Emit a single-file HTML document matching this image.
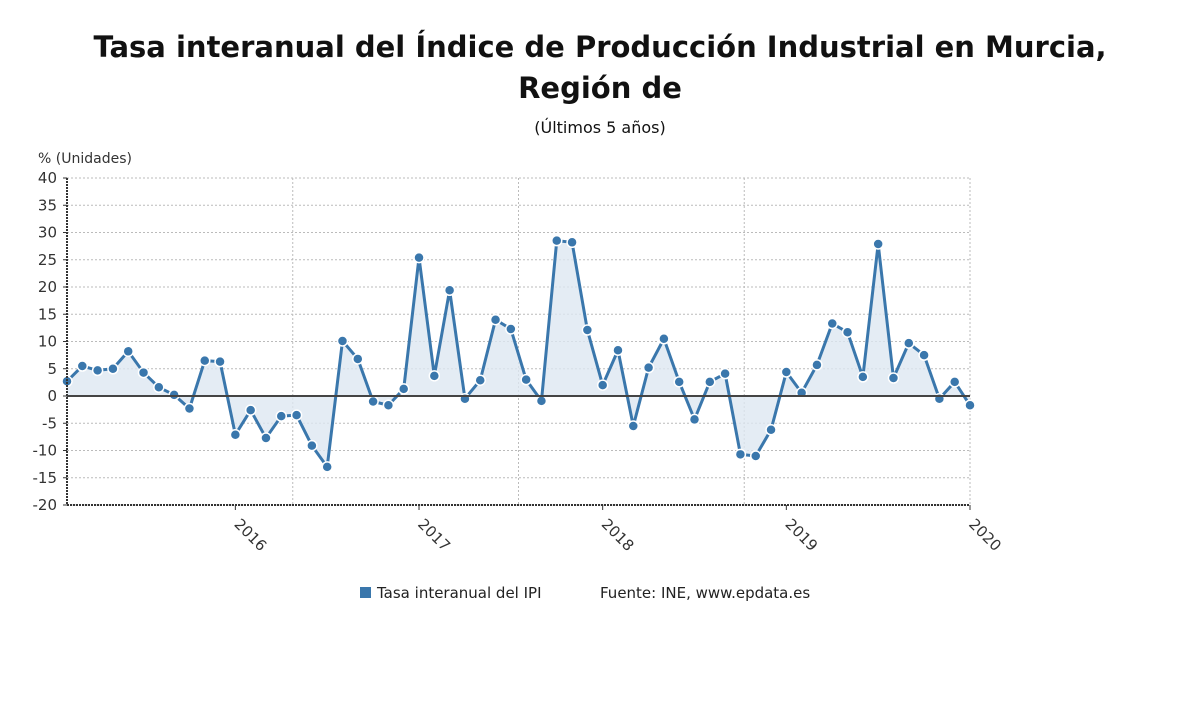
<!DOCTYPE html>
<html><head><meta charset="utf-8"><style>
body{margin:0;background:#fff;width:1200px;height:705px;overflow:hidden;font-family:"DejaVu Sans",sans-serif}
</style></head><body>
<svg width="1200" height="705" font-family="DejaVu Sans, sans-serif">
<text x="600" y="57" text-anchor="middle" font-size="29" font-weight="bold" fill="#111">Tasa interanual del Índice de Producción Industrial en Murcia,</text>
<text x="600" y="98" text-anchor="middle" font-size="29" font-weight="bold" fill="#111">Región de</text>
<text x="600" y="133" text-anchor="middle" font-size="16" fill="#111">(Últimos 5 años)</text>
<text x="38" y="163" font-size="14" fill="#333">% (Unidades)</text>
<g id="grid"></g><g id="area"></g><g id="line"></g><g id="pts"></g><g id="axes"></g>
<rect x="360" y="587" width="11" height="11" fill="#3a77ac"/>
<text x="377" y="598" font-size="15" fill="#222">Tasa interanual del IPI</text>
<text x="600" y="598" font-size="15" fill="#222">Fuente: INE, www.epdata.es</text>
</svg>
<script>
const values=[2.7,5.5,4.7,5.0,8.2,4.3,1.6,0.2,-2.3,6.5,6.3,-7.1,-2.6,-7.7,-3.7,-3.5,-9.1,-13.0,10.1,6.8,-1.0,-1.7,1.3,25.4,3.7,19.4,-0.5,2.9,14.0,12.3,3.0,-0.9,28.5,28.2,12.1,2.0,8.4,-5.5,5.2,10.5,2.6,-4.3,2.6,4.1,-10.7,-11.0,-6.2,4.4,0.6,5.7,13.3,11.7,3.5,27.9,3.3,9.7,7.5,-0.5,2.6,-1.7];
const yTicks=[40,35,30,25,20,15,10,5,0,-5,-10,-15,-20];
const xLabels=["2016","2017","2018","2019","2020"];
const xLabelIdx=[11,23,35,47,59];
const vGridIdx=[14.75,29.5,44.25,59];
const NS="http://www.w3.org/2000/svg";
const X0=67,X1=970,Y0=178,Y1=505,ymin=-20,ymax=40;
const xs=i=>X0+i*(X1-X0)/(values.length-1);
const ys=v=>Y0+(ymax-v)*(Y1-Y0)/(ymax-ymin);
function mk(p,t,a){const e=document.createElementNS(NS,t);for(const k in a)e.setAttribute(k,a[k]);document.getElementById(p).appendChild(e);return e;}
yTicks.forEach(v=>{
 const g=mk('grid','line',{x1:X0,x2:X1,y1:ys(v),y2:ys(v),stroke:'#bbb','stroke-dasharray':'2,2'});
 
 
 const t=mk('axes','text',{x:X0-10,y:ys(v)+5,'text-anchor':'end','font-size':15,fill:'#333'});
 t.textContent=v;
 
 
 mk('axes','line',{x1:X0-4,x2:X0,y1:ys(v),y2:ys(v),stroke:'#333'});
});
vGridIdx.forEach(i=>{
 const g=mk('grid','line',{x1:xs(i),x2:xs(i),y1:Y0,y2:Y1,stroke:'#bbb','stroke-dasharray':'2,2'});
 
 
});
xLabels.forEach((l,k)=>{
 const x=xs(xLabelIdx[k]);
 mk('axes','line',{x1:x,x2:x,y1:Y1,y2:Y1+5,stroke:'#333'});
 const t=mk('axes','text',{x:x-2,y:Y1+20,'font-size':15,fill:'#333',transform:`rotate(45 ${x-2} ${Y1+20})`});
 t.textContent=l;
 
 
});
const ax=mk('axes','line',{x1:X0,x2:X0,y1:Y0,y2:Y1,stroke:'#333','stroke-width':2,'stroke-dasharray':'2,1'});


const bx=mk('axes','line',{x1:X0,x2:X1,y1:Y1,y2:Y1,stroke:'#333','stroke-width':2,'stroke-dasharray':'2,1'});


const zl=mk('axes','line',{x1:X0,x2:X1,y1:ys(0),y2:ys(0),stroke:'#444','stroke-width':2});


let d=values.map((v,i)=>(i?'L':'M')+xs(i)+','+ys(v)).join('');
const ar=mk('area','path',{d:d+`L${xs(values.length-1)},${ys(0)}L${xs(0)},${ys(0)}Z`,fill:'#dde7f1',opacity:0.8});


const ln=mk('line','path',{d:d,fill:'none',stroke:'#3a77ac','stroke-width':3});


values.forEach((v,i)=>{
 const c=mk('pts','circle',{cx:xs(i),cy:ys(v),r:5,fill:'#3a77ac',stroke:'#fff','stroke-width':1.5});
 
 
});
</script>
</body></html>
